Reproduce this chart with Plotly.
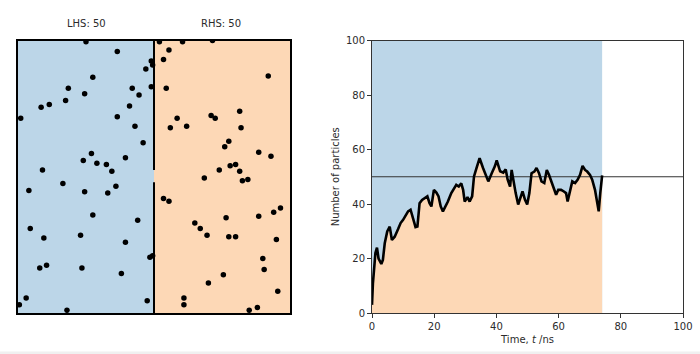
import plotly.graph_objects as go

# ---------------- data ----------------
lhs_x = [-0.50, -0.27, -0.02, -0.01, -0.06, -0.45, -0.63, -0.16, -0.02, -0.51,
         -0.11, -0.65, -0.77, -0.83, -0.18, -0.98, -0.27, -0.14, -0.08, -0.46,
         -0.21, -0.52, -0.42, -0.35, -0.82, -0.31, -0.92, -0.67, -0.51, -0.34,
         -0.28, -0.45, -0.12, -0.91, -0.81, -0.54, -0.21, -0.01, -0.03, -0.79,
         -0.84, -0.53, -0.24, -0.94, -0.99, -0.05, -0.64]
lhs_y = [0.99, 0.92, 0.85, 0.82, 0.79, 0.73, 0.65, 0.65, 0.66, 0.61,
         0.60, 0.56, 0.53, 0.51, 0.52, 0.43, 0.44, 0.37, 0.25, 0.17,
         0.14, 0.12, 0.10, 0.09, 0.05, 0.04, -0.10, -0.05, -0.11, -0.12,
         -0.07, -0.28, -0.32, -0.38, -0.45, -0.43, -0.48, -0.58, -0.59, -0.65,
         -0.67, -0.67, -0.71, -0.89, -0.94, -0.91, -0.98]
rhs_x = [0.04, 0.21, 0.43, 0.11, 0.07, 0.84, 0.09, 0.63, 0.42, 0.45,
         0.17, 0.12, 0.24, 0.64, 0.55, 0.52, 0.77, 0.86, 0.48, 0.56,
         0.60, 0.63, 0.37, 0.65, 0.69, 0.07, 0.11, 0.53, 0.77, 0.88,
         0.93, 0.30, 0.34, 0.39, 0.55, 0.60, 0.90, 0.80, 0.81, 0.51,
         0.40, 0.91, 0.22, 0.22, 0.76, 0.70]
rhs_y = [0.99, 0.99, 1.00, 0.93, 0.86, 0.74, 0.65, 0.48, 0.45, 0.43,
         0.43, 0.36, 0.37, 0.36, 0.26, 0.22, 0.18, 0.15, 0.05, 0.08,
         0.09, 0.04, -0.01, -0.03, -0.02, -0.16, -0.18, -0.30, -0.29, -0.26,
         -0.23, -0.34, -0.38, -0.43, -0.44, -0.44, -0.46, -0.60, -0.68, -0.72,
         -0.78, -0.84, -0.89, -0.94, -0.96, -0.98]

lhs_label = "LHS: 50"
rhs_label = "RHS: 50"

time_ns = [0, 0.3, 1.1, 1.6, 2.1, 3.0, 3.5, 4.1, 4.9, 5.7,
           6.4, 7.3, 8.4, 9.2, 10.0, 10.7, 11.6, 12.4, 13.2, 14.0,
           14.6, 15.3, 16.1, 16.9, 17.8, 18.5, 19.1, 19.9, 20.7, 21.4,
           22.1, 22.8, 23.7, 24.4, 25.5, 26.4, 27.1, 27.9, 28.7, 29.3,
           29.8, 30.7, 31.4, 32.2, 32.8, 33.6, 34.6, 35.7, 36.8, 37.4,
           38.5, 39.5, 40.1, 41.2, 42.2, 43.0, 43.6, 44.4, 44.9, 45.4,
           46.2, 47.0, 47.8, 48.4, 49.2, 49.9, 50.6, 51.3, 52.2, 52.9,
           53.7, 54.5, 55.4, 56.2, 56.9, 57.8, 58.6, 59.2, 59.9, 60.8,
           61.7, 62.4, 62.9, 63.7, 64.4, 65.3, 66.1, 66.9, 67.7, 68.5,
           69.2, 70.1, 70.8, 71.7, 72.4, 72.9, 73.4, 74.0]
n_rhs = [3, 11, 22, 24, 20, 18, 19.5, 25.6, 29.9, 31.7,
         26.8, 28, 30.8, 33, 34.2, 35.5, 37.3, 37.9, 34.8, 31.5,
         31.7, 40.3, 41.5, 42.1, 42.8, 40.3, 39.1, 45.2, 44.2, 42.8,
         39.1, 37.3, 39.1, 40.9, 44, 45.5, 47, 46.4, 47.6, 45.2,
         40.9, 42.5, 40.9, 42.8, 50.1, 53.2, 56.8, 53.2, 50.1, 48.3,
         51.3, 53.8, 56, 52, 51.5, 52.7, 49, 46.4, 52.5, 48.9,
         44, 39.8, 42.2, 44.6, 41.5, 39.8, 44, 51.3, 51.9, 53.2,
         51.3, 48.3, 47.7, 52.5, 50.7, 47.7, 45.2, 43.4, 45.2, 45.2,
         44.6, 44, 40.9, 45.2, 48.3, 47.7, 48.9, 50.7, 54, 52.5,
         51.9, 50.7, 48.9, 45.2, 40.3, 37.3, 44, 50.5]
n_total = 100
n_half = 50

# ---------------- styling ----------------
BLUE = "#bcd6e8"
ORANGE = "#fdd8b6"
FONT = "DejaVu Sans"
TXT = "#2b2b2b"
W, H = 700, 354

fig = go.Figure()

# Left panel: particles
fig.add_trace(go.Scatter(x=lhs_x, y=lhs_y, mode="markers",
                         marker=dict(size=5.5, color="black"),
                         xaxis="x", yaxis="y", showlegend=False, hoverinfo="skip"))
fig.add_trace(go.Scatter(x=rhs_x, y=rhs_y, mode="markers",
                         marker=dict(size=5.5, color="black"),
                         xaxis="x", yaxis="y", showlegend=False, hoverinfo="skip"))

# Right panel: fills and curve
fig.add_trace(go.Scatter(x=time_ns, y=[n_total] * len(time_ns), mode="lines",
                         line=dict(width=0), fill="tozeroy", fillcolor=BLUE,
                         xaxis="x2", yaxis="y2", showlegend=False, hoverinfo="skip"))
fig.add_trace(go.Scatter(x=time_ns, y=n_rhs, mode="lines",
                         line=dict(width=0), fill="tozeroy", fillcolor=ORANGE,
                         xaxis="x2", yaxis="y2", showlegend=False, hoverinfo="skip"))
fig.add_trace(go.Scatter(x=[0, 100], y=[n_half, n_half], mode="lines",
                         line=dict(width=1.2, color="#333333"),
                         xaxis="x2", yaxis="y2", showlegend=False, hoverinfo="skip"))
fig.add_trace(go.Scatter(x=time_ns, y=n_rhs, mode="lines",
                         line=dict(width=2.6, color="black"),
                         xaxis="x2", yaxis="y2", showlegend=False, hoverinfo="skip"))

ydom = [(H - 313) / H, (H - 40.5) / H]

shapes = [
    dict(type="rect", xref="x", yref="y", x0=-1, x1=0, y0=-1, y1=1,
         fillcolor=BLUE, line=dict(width=0), layer="below"),
    dict(type="rect", xref="x", yref="y", x0=0, x1=1, y0=-1, y1=1,
         fillcolor=ORANGE, line=dict(width=0), layer="below"),
    dict(type="line", xref="x", yref="y", x0=0, x1=0, y0=0.05, y1=1,
         line=dict(color="black", width=2)),
    dict(type="line", xref="x", yref="y", x0=0, x1=0, y0=-1, y1=-0.04,
         line=dict(color="black", width=2)),
    dict(type="rect", xref="paper", yref="paper", x0=0, x1=1, y0=0, y1=2.5 / H,
         fillcolor="#f0f0f0", line=dict(width=0), layer="below"),
]

annotations = [
    dict(text=lhs_label, x=86 / W, y=1 - 23 / H, xref="paper", yref="paper",
         showarrow=False, font=dict(family=FONT, size=10, color=TXT),
         xanchor="center", yanchor="middle"),
    dict(text=rhs_label, x=221 / W, y=1 - 23 / H, xref="paper", yref="paper",
         showarrow=False, font=dict(family=FONT, size=10, color=TXT),
         xanchor="center", yanchor="middle"),
]

fig.update_layout(
    template="none",
    width=W, height=H,
    margin=dict(l=0, r=0, t=0, b=0, pad=0),
    paper_bgcolor="white", plot_bgcolor="white",
    font=dict(family=FONT, size=10, color=TXT),
    shapes=shapes, annotations=annotations,
    xaxis=dict(domain=[18 / W, 290 / W], range=[-1, 1], showgrid=False,
               zeroline=False, showticklabels=False, ticks="", automargin=False,
               showline=True, linecolor="black", linewidth=2, mirror=True),
    yaxis=dict(domain=ydom, range=[-1, 1], showgrid=False,
               zeroline=False, showticklabels=False, ticks="", automargin=False,
               showline=True, linecolor="black", linewidth=2, mirror=True),
    xaxis2=dict(domain=[372 / W, 683 / W], range=[0, 100], anchor="y2",
                showgrid=False, zeroline=False, tickvals=[0, 20, 40, 60, 80, 100],
                ticks="outside", ticklen=4, tickcolor="#333333", tickwidth=1,
                showline=True, linecolor="#333333", linewidth=1, mirror=True,
                automargin=False, tickfont=dict(size=10, color=TXT),
                title=dict(text="Time, <i>t</i> /ns", standoff=4,
                           font=dict(size=10, color=TXT))),
    yaxis2=dict(domain=ydom, range=[0, 100], anchor="x2",
                showgrid=False, zeroline=False, tickvals=[0, 20, 40, 60, 80, 100],
                ticks="outside", ticklen=4, tickcolor="#333333", tickwidth=1,
                showline=True, linecolor="#333333", linewidth=1, mirror=True,
                automargin=False, tickfont=dict(size=10, color=TXT),
                title=dict(text="Number of particles", standoff=4,
                           font=dict(size=10, color=TXT))),
)

fig.write_html("out.html")
